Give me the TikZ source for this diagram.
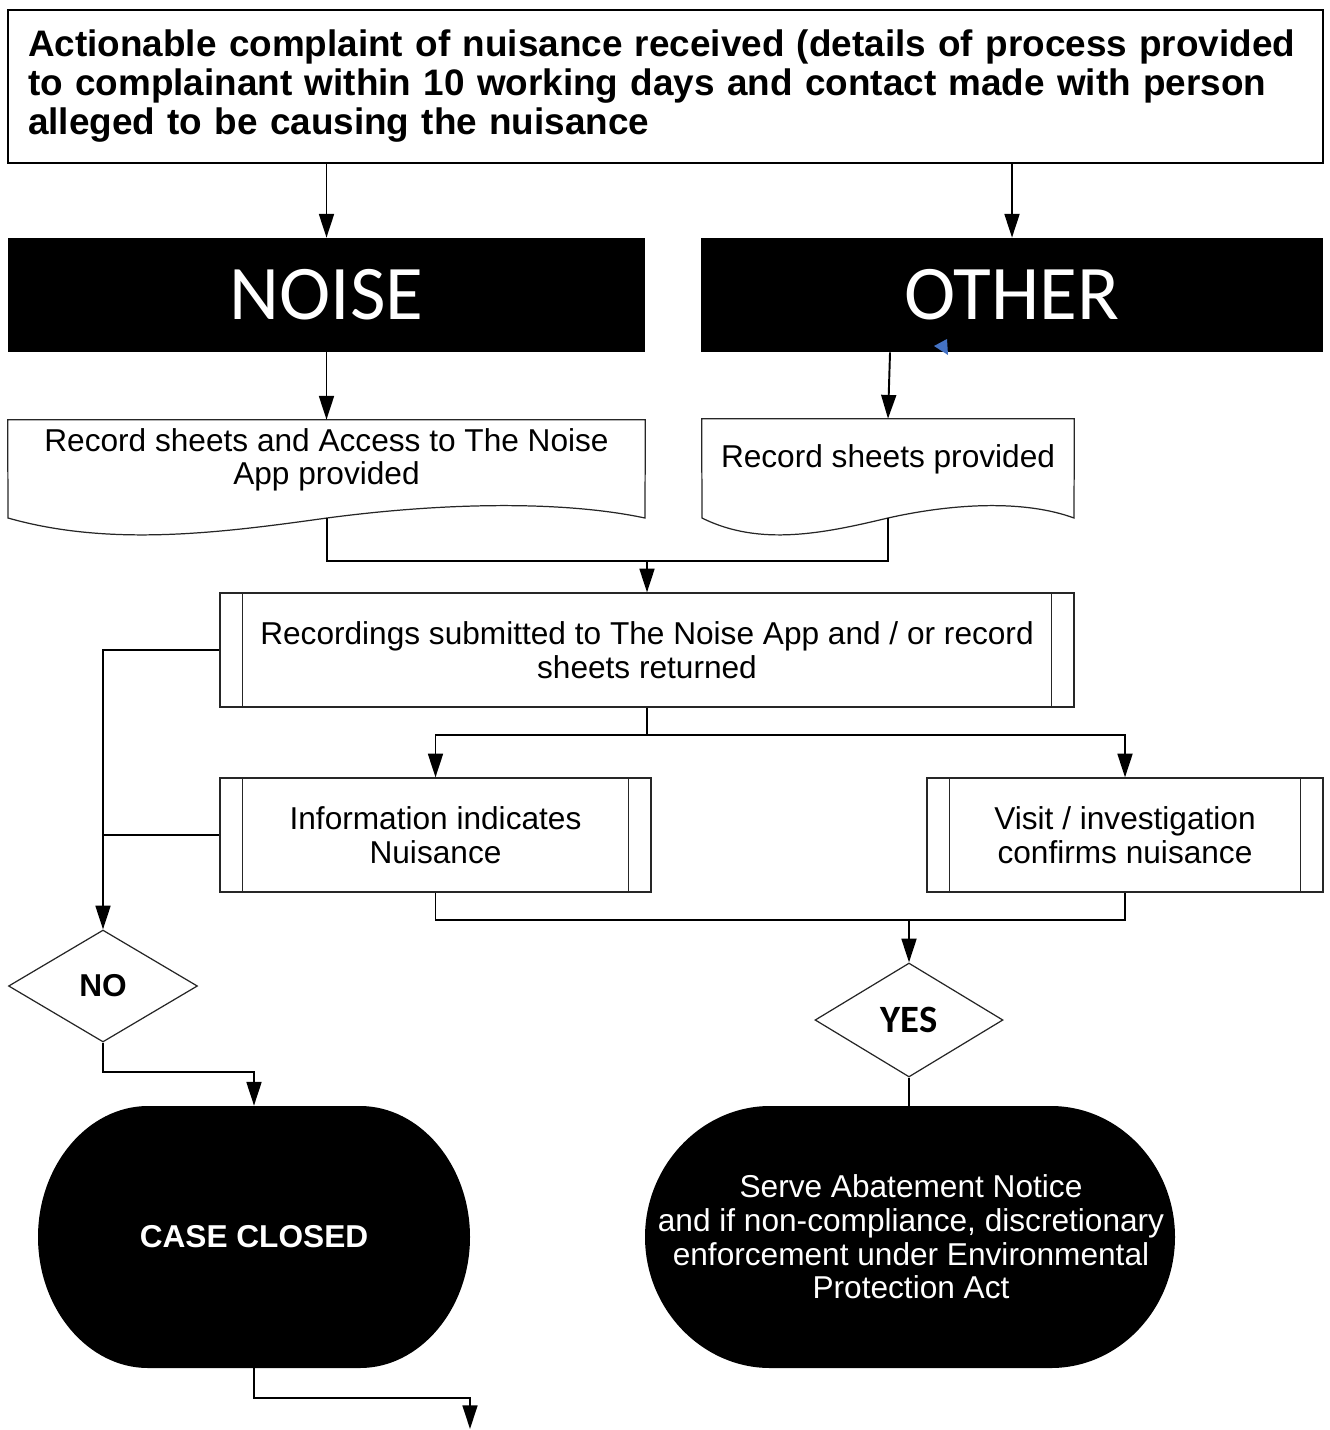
\documentclass[tikz,border=0pt]{standalone}
\usepackage{fontspec}
\setmainfont{Liberation Sans}
\newfontfamily\calibrifont{Carlito}
\usetikzlibrary{arrows.meta,shapes.geometric}
\definecolor{markblue}{HTML}{4472C4}

\begin{document}
\begin{tikzpicture}[x=0.02cm,y=-0.02cm,
    flow/.style={line width=1.1pt},
    flowarrow/.style={flow,-{Triangle[length=13.5pt,width=8.5pt]}},
    thinline/.style={draw=black!85,line width=0.7pt},
    headline/.style={draw=black,line width=1.2pt,inner sep=0pt,align=left,
      font=\bfseries\fontsize{21}{22.2}\selectfont},
    category/.style={fill=black,text=white,inner sep=0pt,minimum height=2.28cm,
      font=\calibrifont\fontsize{44}{48}\selectfont},
    sheet/.style={inner sep=0pt,minimum height=1.6cm,align=center,
      font=\fontsize{18}{19}\selectfont},
    process/.style={thinline,inner sep=0pt,minimum height=2.28cm,align=center,
      font=\fontsize{18}{19}\selectfont},
    decision/.style={diamond,thinline,inner sep=0pt},
    outcome/.style={inner sep=0pt,text=white,align=center,minimum height=5.24cm}]

  \useasboundingbox (0,0) rectangle (1329,1430);

  % Complaint received
  \node[headline,minimum width=26.3cm,minimum height=3.06cm,text width=25.5cm]
    (complaint) at (665.5,86.5)
    {Actionable complaint of nuisance received (details of process provided\\
     to complainant within 10 working days and contact made with person\\
     alleged to be causing the nuisance};

  % Two categories
  \node[category,minimum width=12.74cm] (noise) at (326.5,295) {NOISE};
  \node[category,minimum width=12.44cm] (other) at (1012,295) {OTHER};
  \fill[markblue] (934,346) -- (947,339) -- (948,355) -- cycle;

  \draw[flowarrow] (complaint.south -| noise) -- (noise.north);
  \draw[flowarrow] (complaint.south -| other) -- (other.north);

  % Record sheets (document shapes)
  \node[sheet,minimum width=12.74cm] (appsheets) at (326.5,460)
    {Record sheets and Access to The Noise\\App provided};
  \coordinate (appfoot) at (327,518);
  \draw[thinline] (8,518) -- (appsheets.north west) -- (appsheets.north east)
    -- (645,518) .. controls (560,500) and (440,503) .. (appfoot)
    .. controls (220,533) and (110,547) .. cycle;

  \node[sheet,minimum width=7.44cm] (sheetsonly) at (888,459) {Record sheets provided};
  \coordinate (otherfoot) at (888,518);
  \draw[thinline] (702,518) -- (sheetsonly.north west) -- (sheetsonly.north east)
    -- (1074,518) .. controls (1025,500) and (955,503) .. (otherfoot)
    .. controls (825,533) and (760,547) .. cycle;

  \draw[flowarrow] (noise.south) -- (appsheets.north);
  \draw[flowarrow] ([xshift=-2.44cm]other.south) -- (sheetsonly.north);

  \coordinate (merge) at (647,561);
  \draw[flow] (appfoot) |- (merge) -| (otherfoot);

  % Predefined processes
  \node[process,minimum width=17.08cm] (submitted) at (647,650)
    {Recordings submitted to The Noise App and / or record\\sheets returned};
  \node[process,minimum width=8.62cm] (indicates) at (435.5,835)
    {Information indicates\\Nuisance};
  \node[process,minimum width=7.92cm] (confirms) at (1125,835)
    {Visit / investigation\\confirms nuisance};
  \foreach \p in {submitted,indicates,confirms} {
    \draw[thinline] ([xshift=0.46cm]\p.north west) -- ([xshift=0.46cm]\p.south west);
    \draw[thinline] ([xshift=-0.46cm]\p.north east) -- ([xshift=-0.46cm]\p.south east);
  }

  \draw[flowarrow] (merge) -- (submitted.north);
  \coordinate (split) at (647,735);
  \draw[flow] (submitted.south) -- (split);
  \draw[flowarrow] (split) -| (indicates.north);
  \draw[flowarrow] (split) -| (confirms.north);

  % Decisions
  \node[decision,minimum width=3.78cm,minimum height=2.24cm,
    font=\bfseries\fontsize{18}{20}\selectfont] (nodecision) at (103,986) {NO};
  \node[decision,minimum width=3.76cm,minimum height=2.28cm,
    font=\calibrifont\bfseries\fontsize{22}{24}\selectfont] (yesdecision) at (909,1020) {YES};

  \draw[flowarrow] (submitted.west) -| (nodecision.north);
  \draw[flow] (indicates.west) -- (indicates.west -| nodecision);

  \coordinate (yesmerge) at (909,920);
  \draw[flow] (indicates.south) |- (yesmerge) -| (confirms.south);
  \draw[flowarrow] (yesmerge) -- (yesdecision.north);

  % Outcomes
  \fill (148,1106) -- (360,1106) .. controls (420,1106) and (470,1165) .. (470,1237)
    .. controls (470,1309) and (420,1368) .. (360,1368) -- (148,1368)
    .. controls (88,1368) and (38,1309) .. (38,1237)
    .. controls (38,1165) and (88,1106) .. cycle;
  \node[outcome,minimum width=8.64cm,font=\bfseries\fontsize{18}{20}\selectfont]
    (closed) at (254,1237) {CASE CLOSED};

  \fill (770,1106) -- (1051,1106) .. controls (1119,1106) and (1175,1165) .. (1175,1237)
    .. controls (1175,1309) and (1119,1368) .. (1051,1368) -- (770,1368)
    .. controls (702,1368) and (645,1309) .. (645,1237)
    .. controls (645,1165) and (702,1106) .. cycle;
  \node[outcome,minimum width=10.6cm,font=\fontsize{18}{19.2}\selectfont]
    (abatement) at (911,1237)
    {Serve Abatement Notice\\and if non-compliance, discretionary\\
     enforcement under Environmental\\Protection Act};

  \draw[flowarrow] (nodecision.south) -- ++(0,29) -| (closed.north);
  \draw[flow] (yesdecision.south) -- (yesdecision.south |- abatement.north);

  \coordinate (nextstep) at (470,1429);
  \draw[flowarrow] (closed.south) -- ++(0,30) -| (nextstep);

\end{tikzpicture}
\end{document}
